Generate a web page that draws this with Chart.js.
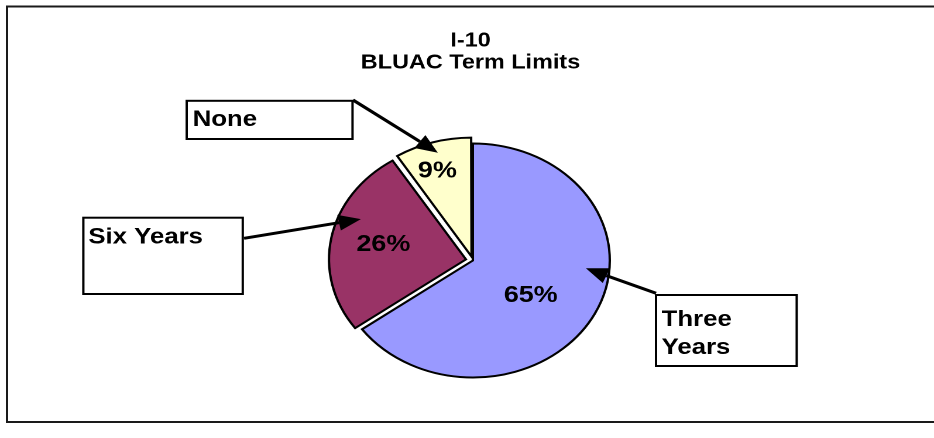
<!DOCTYPE html>
<html>
<head>
<meta charset="utf-8">
<title>I-10 BLUAC Term Limits</title>
<script src="https://cdn.jsdelivr.net/npm/chart.js@4.4.0/dist/chart.umd.min.js"></script>
<style>
    html, body { margin: 0; padding: 0; background: #fff; overflow: hidden; }
    /* the original picture is stretched sideways, so the whole chart is too */
    #wrap {
        position: absolute; left: 0; top: 0;
        width: 798px; height: 438px;
        transform: scaleX(1.1704); transform-origin: 0 0;
    }
</style>
</head>
<body>
<div id="wrap"><canvas id="term-chart"></canvas></div>
<script>
// Chart data
const categories = ['Three Years', 'Six Years', 'None'];
const shares = [65, 26, 9];
const percentLabels = ['65%', '26%', '9%'];
const titleLines = ['I-10', 'BLUAC Term Limits'];
const calloutLines = [['Three', 'Years'], ['Six Years'], ['None']];

// Styles
const sliceColors = ['#9999FF', '#993366', '#FFFFCC'];
// Chart.js moves an arc by offset/4 (plus a bit more for thin slices)
const sliceOffsets = [0, 24, 16.4];
const sliceShift = [0, 6, 6];   // resulting pixel shift, used to place the labels
const FONT = "'Liberation Sans', Arial, sans-serif";

// Callout boxes (canvas px, before the sideways stretch)
const callouts = [
    { box: [560.5, 295, 120.2, 71], textX: 4.8, textY: 31, lineGap: 28,
      from: [560.5, 293.3], tipDeg: 94.6, tipDist: 0.828 },
    { box: [71.2, 217.7, 136.2, 76.3], textX: 4.3, textY: 25.6, lineGap: 28,
      from: [208.5, 238.3], tipDeg: 293.4, tipDist: 0.891 },
    { box: [159.5, 100.8, 141.7, 38.2], textX: 5.1, textY: 25.2, lineGap: 28,
      from: [301.6, 100], tipDeg: 344.5, tipDist: 0.956 }
];

// Percent label placement: nudge from mid angle (deg) and distance (fraction of radius)
const percentPlace = [
    { nudge: 7, dist: 0.51 },
    { nudge: 2.4, dist: 0.62 },
    { nudge: -2.2, dist: 0.77 }
];

// clockwise degrees from 12 o'clock -> canvas radians
function toRad(deg) {
    return deg * Math.PI / 180 - Math.PI / 2;
}

function drawArrow(ctx, x1, y1, x2, y2) {
    const ang = Math.atan2(y2 - y1, x2 - x1);
    const len = 19, half = 8;
    const bx = x2 - len * Math.cos(ang);
    const by = y2 - len * Math.sin(ang);
    ctx.beginPath();
    ctx.moveTo(x1, y1);
    ctx.lineTo(bx, by);
    ctx.strokeStyle = '#000';
    ctx.lineWidth = 3;
    ctx.stroke();
    ctx.beginPath();
    ctx.moveTo(x2, y2);
    ctx.lineTo(bx + half * Math.sin(ang), by - half * Math.cos(ang));
    ctx.lineTo(bx - half * Math.sin(ang), by + half * Math.cos(ang));
    ctx.closePath();
    ctx.fillStyle = '#000';
    ctx.fill();
}

// Background, frame and title
const framePlugin = {
    id: 'frame',
    beforeDraw(chart) {
        const ctx = chart.ctx;
        ctx.save();
        ctx.fillStyle = '#fff';
        ctx.fillRect(0, 0, chart.width, chart.height);
        ctx.strokeStyle = '#1a1a1a';
        ctx.lineWidth = 2;
        ctx.strokeRect(6, 6.5, chart.width + 20, 415.5);

        ctx.fillStyle = '#000';
        ctx.textAlign = 'center';
        ctx.textBaseline = 'alphabetic';
        ctx.font = 'bold 20px ' + FONT;
        ctx.fillText(titleLines[0], 402, 46.7);
        ctx.fillText(titleLines[1], 402, 68.7);
        ctx.restore();
    }
};

// Percent labels and callouts with arrows
const calloutPlugin = {
    id: 'callouts',
    afterDatasetsDraw(chart) {
        const ctx = chart.ctx;
        const arcs = chart.getDatasetMeta(0).data;
        const cx = arcs[0].x, cy = arcs[0].y;
        const r = arcs[0].outerRadius;
        ctx.save();

        // percentages inside the slices
        ctx.fillStyle = '#000';
        ctx.textAlign = 'center';
        ctx.textBaseline = 'alphabetic';
        ctx.font = 'bold 23px ' + FONT;
        arcs.forEach((arc, i) => {
            const mid = (arc.startAngle + arc.endAngle) / 2 + percentPlace[i].nudge * Math.PI / 180;
            const d = percentPlace[i].dist * r + sliceShift[i];
            const x = cx + d * Math.cos(mid);
            const y = cy + d * Math.sin(mid);
            ctx.fillText(percentLabels[i], x, y + 0.358 * 23);
        });

        // boxes with category names
        callouts.forEach((c, i) => {
            const [bx, by, bw, bh] = c.box;
            ctx.fillStyle = '#fff';
            ctx.fillRect(bx, by, bw, bh);
            ctx.strokeStyle = '#000';
            ctx.lineWidth = 2;
            ctx.strokeRect(bx, by, bw, bh);

            ctx.fillStyle = '#000';
            ctx.textAlign = 'left';
            ctx.font = 'bold 22px ' + FONT;
            calloutLines[i].forEach((line, k) => {
                ctx.fillText(line, bx + c.textX, by + c.textY + k * c.lineGap);
            });

            const a = toRad(c.tipDeg);
            const tx = cx + c.tipDist * r * Math.cos(a);
            const ty = cy + c.tipDist * r * Math.sin(a);
            drawArrow(ctx, c.from[0], c.from[1], tx, ty);
        });
        ctx.restore();
    }
};

function initializeChart() {
    const ctx = document.getElementById('term-chart').getContext('2d');

    return new Chart(ctx, {
        type: 'pie',
        data: {
            labels: categories,
            datasets: [{
                data: shares,
                backgroundColor: sliceColors,
                borderColor: '#000',
                borderWidth: 2,
                borderJoinStyle: 'miter',
                offset: sliceOffsets
            }]
        },
        options: {
            responsive: true,
            maintainAspectRatio: false,
            devicePixelRatio: 2,
            animation: false,
            radius: 117,
            rotation: 0,
            layout: {
                padding: { left: 10, right: 0, top: 83, bottom: 0 }
            },
            plugins: {
                legend: { display: false },
                tooltip: { enabled: false },
                title: { display: false }
            }
        },
        plugins: [framePlugin, calloutPlugin]
    });
}

initializeChart();
</script>
</body>
</html>
